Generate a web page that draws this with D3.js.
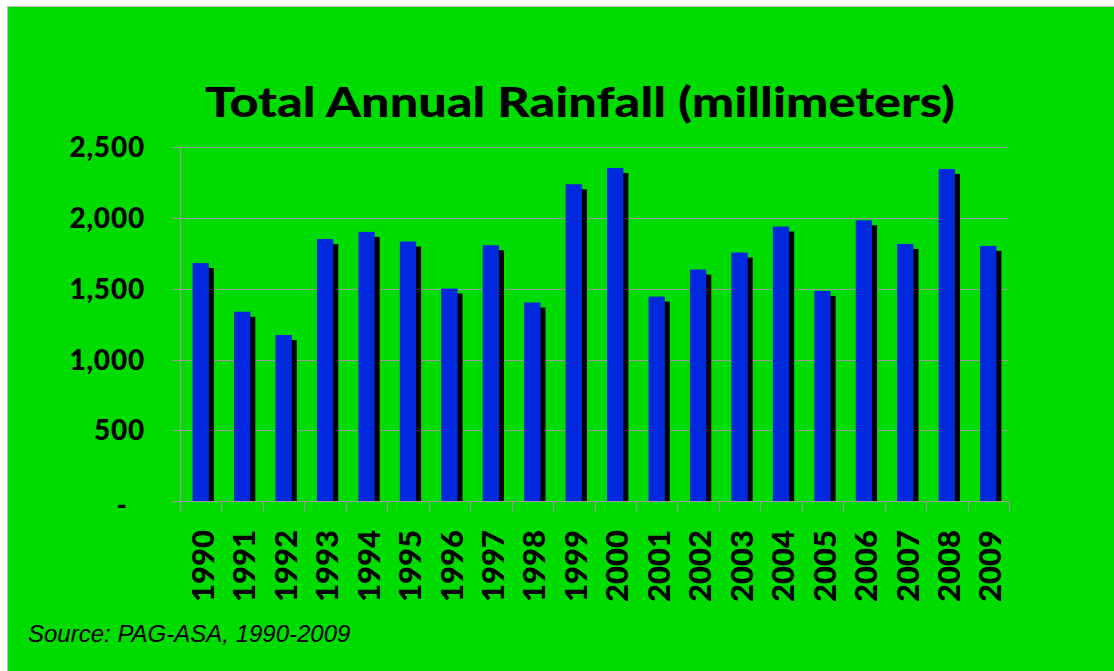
<!DOCTYPE html>
<html>
<head>
<meta charset="utf-8">
<script src="https://cdn.jsdelivr.net/npm/d3@7"></script>
<style>
html,body{margin:0;padding:0;background:#fff;}
svg{display:block;}
</style>
</head>
<body>
<svg id="chart" width="1114" height="671"></svg>
<script>
const years = ["1990","1991","1992","1993","1994","1995","1996","1997","1998","1999","2000","2001","2002","2003","2004","2005","2006","2007","2008","2009"];
const rainfall = [1682,1338,1173,1852,1902,1834,1502,1808,1403,2239,2354,1445,1636,1756,1940,1485,1984,1817,2347,1803];
const yTicks = [0,500,1000,1500,2000,2500];
const titleText = "Total Annual Rainfall (millimeters)";
const sourceText = "Source: PAG-ASA, 1990-2009";

(function(){
const svg = d3.select("#chart");
const W = 1114, H = 671;
const green = "#00dc00", blue = "#0028dc", grid = "#9a9a9a";

svg.append("rect").attr("x",7).attr("y",6).attr("width",W-7).attr("height",H-6).attr("fill",green);
svg.append("line").attr("x1",7).attr("x2",W).attr("y1",6.5).attr("y2",6.5).attr("stroke","#bbb");
svg.append("line").attr("x1",7.5).attr("x2",7.5).attr("y1",6).attr("y2",H).attr("stroke","#bbb");

const pLeft = 180, pRight = 1009, pTop = 147.3, pBottom = 501;
const x = d3.scaleBand().domain(years).range([pLeft,pRight]).paddingInner(0).paddingOuter(0);
const y = d3.scaleLinear().domain([0,2500]).range([pBottom, pTop]);

svg.append("g").selectAll("line").data(yTicks).join("line")
  .attr("x1", pLeft-8).attr("x2", pRight)
  .attr("y1", d=>Math.round(y(d))+0.5).attr("y2", d=>Math.round(y(d))+0.5)
  .attr("stroke", grid).attr("stroke-width",1.2);

svg.append("line").attr("x1",pLeft+0.5).attr("x2",pLeft+0.5).attr("y1",pTop).attr("y2",pBottom+10)
  .attr("stroke",grid).attr("stroke-width",1.2);

const bounds = years.map(d=>x(d)).concat([pRight]);
svg.append("g").selectAll("line").data(bounds).join("line")
  .attr("x1", d=>Math.round(d)+0.5).attr("x2", d=>Math.round(d)+0.5)
  .attr("y1", pBottom).attr("y2", pBottom+10)
  .attr("stroke", grid).attr("stroke-width",1.2);

const bw = 16.3, off = 5;
const bars = svg.append("g");
bars.selectAll("rect.sh").data(years).join("rect").attr("class","sh")
  .attr("x", (d,i)=>x(d)+x.bandwidth()/2 - bw/2 + off)
  .attr("y", (d,i)=>y(rainfall[i]) + off)
  .attr("width", bw)
  .attr("height", (d,i)=>pBottom - y(rainfall[i]) - off)
  .attr("fill","#000");
bars.selectAll("rect.bar").data(years).join("rect").attr("class","bar")
  .attr("x", (d,i)=>x(d)+x.bandwidth()/2 - bw/2)
  .attr("y", (d,i)=>y(rainfall[i]))
  .attr("width", bw)
  .attr("height", (d,i)=>pBottom - y(rainfall[i]))
  .attr("fill",blue);

const fmt = d3.format(",");
svg.append("g").selectAll("text").data(yTicks).join("text")
  .attr("x", d=> d===0 ? 127 : 145)
  .attr("y", d=>y(d)).attr("dy", d=> d===0 ? "0.5em" : "0.36em")
  .attr("text-anchor","end")
  .attr("font-family","Lato").attr("font-weight",900).attr("font-size",28)
  .attr("letter-spacing", d=> d===0 ? 0 : 0.8)
  .text(d=> d===0 ? "-" : fmt(d));

svg.append("g").selectAll("text").data(years).join("text")
  .attr("transform", d=>`translate(${x(d)+x.bandwidth()/2+2},530) rotate(-90)`)
  .attr("dy","0.36em")
  .attr("text-anchor","end")
  .attr("font-family","Lato").attr("font-weight",900).attr("font-size",31)
  .text(d=>d);

svg.append("text").attr("x",580).attr("y",117)
  .attr("text-anchor","middle")
  .attr("font-family","Lato").attr("font-weight",900).attr("font-size",41)
  .attr("textLength",750).attr("lengthAdjust","spacingAndGlyphs")
  .text(titleText);

svg.append("text").attr("x",28).attr("y",642)
  .attr("font-family","Liberation Sans, Arial, sans-serif").attr("font-style","italic").attr("font-size",24)
  .text(sourceText);
})();
</script>
</body>
</html>
